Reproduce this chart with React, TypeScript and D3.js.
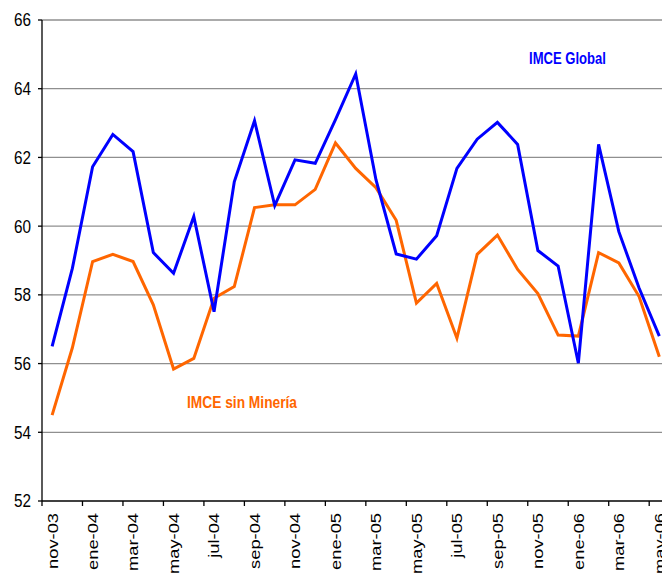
import React from 'react'
import * as d3 from 'd3'

const months = [
  'nov-03', 'dic-03', 'ene-04', 'feb-04', 'mar-04', 'abr-04', 'may-04', 'jun-04',
  'jul-04', 'ago-04', 'sep-04', 'oct-04', 'nov-04', 'dic-04', 'ene-05', 'feb-05',
  'mar-05', 'abr-05', 'may-05', 'jun-05', 'jul-05', 'ago-05', 'sep-05', 'oct-05',
  'nov-05', 'dic-05', 'ene-06', 'feb-06', 'mar-06', 'abr-06', 'may-06',
]

const imceGlobal = [
  56.5, 58.77, 61.73, 62.67, 62.17, 59.23, 58.63, 60.28,
  57.51, 61.29, 63.07, 60.6, 61.93, 61.83, 63.1, 64.43,
  61.35, 59.19, 59.04, 59.72, 61.68, 62.53, 63.02, 62.38,
  59.29, 58.84, 56.01, 62.38, 59.84, 58.2, 56.8,
]

const imceSinMineria = [
  54.5, 56.46, 58.97, 59.18, 58.97, 57.71, 55.84, 56.15,
  57.9, 58.24, 60.54, 60.62, 60.62, 61.07, 62.42, 61.68,
  61.12, 60.17, 57.76, 58.33, 56.74, 59.18, 59.74, 58.74,
  58.04, 56.83, 56.8, 59.23, 58.93, 57.95, 56.2,
]

const yTicks = [52, 54, 56, 58, 60, 62, 64, 66]

const W = 662
const H = 573
const left = 42
const top = 20
const bottom = 501
const step = 20.24

export default function App() {
  const x = d3.scaleBand<string>()
    .domain(months)
    .range([left, left + step * months.length])
    .padding(0)
  const y = d3.scaleLinear().domain([52, 66]).range([bottom, top])
  const cx = (m: string) => (x(m) as number) + x.bandwidth() / 2

  const line = d3.line<number>()
    .x((_, i) => cx(months[i]))
    .y(d => y(d))

  const tickMonths = months.filter((_, i) => i % 2 === 0)
  const sans = '"Liberation Sans", Arial, sans-serif'

  return (
    <svg width={W} height={H} style={{ position: 'absolute', left: 0, top: 0, background: '#fff' }}>
      {/* gridlines */}
      {yTicks.filter(t => t > 52).map(t => (
        <line key={t} x1={left} x2={W} y1={y(t)} y2={y(t)} stroke="#8f8f8f" strokeWidth={1.3} />
      ))}

      {/* y axis */}
      <line x1={left} x2={left} y1={top} y2={bottom} stroke="#000" strokeWidth={1.3} />
      {yTicks.map(t => (
        <g key={t}>
          <line x1={left - 4} x2={left} y1={y(t)} y2={y(t)} stroke="#000" strokeWidth={1.3} />
          <text
            x={31}
            y={y(t)}
            dy="0.36em"
            textAnchor="end"
            fontFamily={sans}
            fontSize={18}
            fill="#000"
            textLength={17}
            lengthAdjust="spacingAndGlyphs"
          >
            {t}
          </text>
        </g>
      ))}

      {/* x axis */}
      <line x1={left} x2={W} y1={bottom} y2={bottom} stroke="#000" strokeWidth={1.3} />
      {tickMonths.map(m => (
        <g key={m}>
          <line x1={x(m)} x2={x(m)} y1={bottom} y2={bottom + 5} stroke="#000" strokeWidth={1.3} />
          <text
            transform={`translate(${cx(m)},${bottom + 12}) rotate(-90) scale(1.22,1)`}
            dy="0.36em"
            textAnchor="end"
            fontFamily={sans}
            fontSize={15}
            fill="#000"
          >
            {m}
          </text>
        </g>
      ))}

      {/* series */}
      <path d={line(imceSinMineria) ?? ''} fill="none" stroke="#ff6600" strokeWidth={3} strokeLinejoin="miter" />
      <path d={line(imceGlobal) ?? ''} fill="none" stroke="#0000ff" strokeWidth={3} strokeLinejoin="miter" />

      <text x={529} y={64} fontFamily={sans} fontWeight="bold" fontSize={16.5} fill="#0000ff"
        textLength={77} lengthAdjust="spacingAndGlyphs">IMCE Global</text>
      <text x={187} y={408} fontFamily={sans} fontWeight="bold" fontSize={16.5} fill="#ff6600"
        textLength={110} lengthAdjust="spacingAndGlyphs">IMCE sin Minería</text>
    </svg>
  )
}
